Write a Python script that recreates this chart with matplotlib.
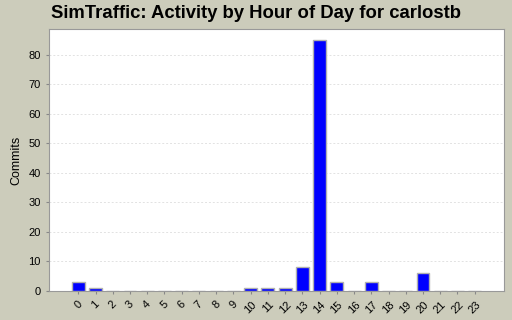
import matplotlib
matplotlib.use("Agg")
import matplotlib.pyplot as plt

hours = [str(h) for h in range(24)]
commits = [3, 1, 0, 0, 0, 0, 0, 0, 0, 0, 1, 1, 1, 8, 85, 3, 0, 3, 0, 0, 6, 0, 0, 0]
yticks = [0, 10, 20, 30, 40, 50, 60, 70, 80]

plt.rcParams['font.family'] = ['Liberation Sans', 'DejaVu Sans']
bg = '#ccccbb'
fig = plt.figure(figsize=(5.12, 3.2), dpi=100, facecolor=bg)
ax = fig.add_axes([49/512, 1 - 291/320, (504-49)/512, (291-29)/320])
ax.set_facecolor('white')
x = list(range(len(hours)))
ax.bar(x, commits, width=0.75, color='#0000ff', edgecolor='#b0b0b0', linewidth=1, zorder=3)
ax.set_xlim(-1.7, 24.7)
ax.set_ylim(0, 88.8)
ax.set_yticks(yticks)
ax.set_yticklabels([str(v) for v in yticks], fontsize=8)
ax.set_xticks(x)
ax.set_xticklabels(hours, fontsize=8, rotation=45, ha='center', va='top')
ax.yaxis.grid(True, linestyle=(0, (2, 2)), color='#e2e2e2', linewidth=0.7, zorder=0)
ax.tick_params(axis='both', length=2, color='#888888', pad=4)
for s in ax.spines.values():
    s.set_color('#999999')
ax.set_ylabel('Commits', fontsize=9)
fig.suptitle('SimTraffic: Activity by Hour of Day for carlostb', fontsize=13.3, fontweight='bold', x=0.5, y=0.985, va='top')
fig.savefig('out.png', dpi=100, facecolor=bg)
